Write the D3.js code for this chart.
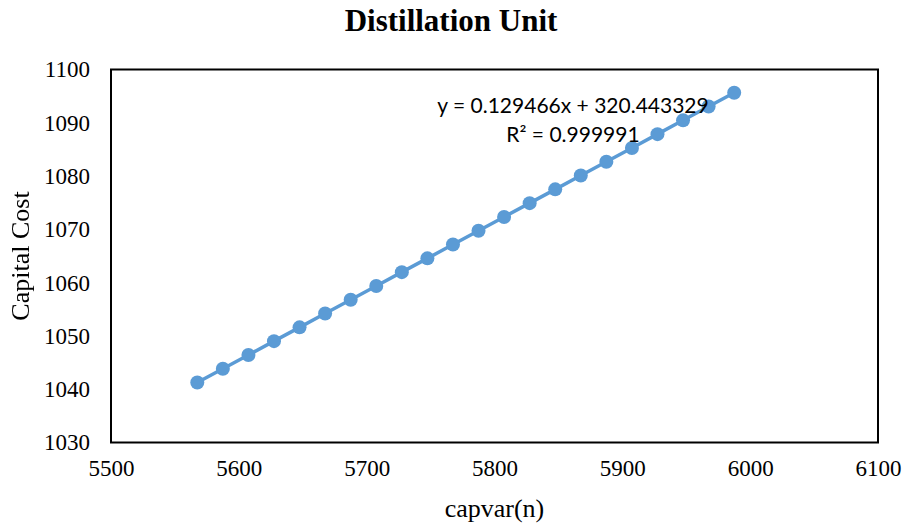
<!DOCTYPE html>
<html>
<head>
<meta charset="utf-8">
<script src="https://d3js.org/d3.v7.min.js"></script>
<style>
  html, body { margin: 0; padding: 0; background: #fff; }
  svg { display: block; }
  .y-title { filter: grayscale(100%); }
</style>
</head>
<body>
<svg id="chart" width="902" height="527"></svg>
<script>
// capvar(n) samples and the matching capital cost
const capvar = [5567.5, 5587.5, 5607.5, 5627.5, 5647.5, 5667.5, 5687.5, 5707.5,
                5727.5, 5747.5, 5767.5, 5787.5, 5807.5, 5827.5, 5847.5, 5867.5,
                5887.5, 5907.5, 5927.5, 5947.5, 5967.5, 5987.5];
const capitalCost = [1041.25, 1043.84, 1046.43, 1049.02, 1051.61, 1054.20, 1056.79, 1059.38,
                     1061.97, 1064.56, 1067.15, 1069.74, 1072.33, 1074.92, 1077.51, 1080.10,
                     1082.69, 1085.28, 1087.87, 1090.46, 1093.05, 1095.64];
const xTicks = [5500, 5600, 5700, 5800, 5900, 6000, 6100];
const yTicks = [1030, 1040, 1050, 1060, 1070, 1080, 1090, 1100];
const trendLines = ["y = 0.129466x + 320.443329", "R\u00B2 = 0.999991"];

const svg = d3.select("#chart");
const plot = { left: 111, top: 69.5, right: 878, bottom: 442.5 };
const serif = "'Liberation Serif', 'Times New Roman', serif";
const blue = "#5B9BD5";

const x = d3.scaleLinear().domain([5500, 6100]).range([plot.left, plot.right]);
const y = d3.scaleLinear().domain([1030, 1100]).range([plot.bottom, plot.top]);

// title
svg.append("text")
  .attr("x", 451).attr("y", 31)
  .attr("text-anchor", "middle")
  .attr("font-family", serif).attr("font-weight", "bold").attr("font-size", 31)
  .attr("fill", "#000")
  .text("Distillation Unit");

// axes (labels only, no tick marks)
const xAxis = svg.append("g")
  .attr("transform", `translate(0,${plot.bottom})`)
  .call(d3.axisBottom(x).tickValues(xTicks).tickSize(0).tickPadding(17).tickFormat(d3.format("d")));
const yAxis = svg.append("g")
  .attr("transform", `translate(${plot.left},0)`)
  .call(d3.axisLeft(y).tickValues(yTicks).tickSize(0).tickPadding(21).tickFormat(d3.format("d")));
[xAxis, yAxis].forEach(g => {
  g.select(".domain").remove();
  g.selectAll("text")
    .attr("font-family", serif).attr("font-size", 23).attr("fill", "#000");
});

// plot frame
svg.append("rect")
  .attr("x", plot.left).attr("y", plot.top)
  .attr("width", plot.right - plot.left).attr("height", plot.bottom - plot.top)
  .attr("fill", "none").attr("stroke", "#000").attr("stroke-width", 2);

// axis titles
svg.append("text")
  .attr("x", (plot.left + plot.right) / 2).attr("y", 517)
  .attr("text-anchor", "middle")
  .attr("font-family", serif).attr("font-size", 26)
  .attr("fill", "#000")
  .text("capvar(n)");
svg.append("text")
  .attr("class", "y-title")
  .attr("transform", `translate(29,${(plot.top + plot.bottom) / 2}) rotate(-90)`)
  .attr("text-anchor", "middle")
  .attr("font-family", serif).attr("font-size", 26)
  .attr("fill", "#000")
  .text("Capital Cost");

// series
const pts = capvar.map((v, i) => [v, capitalCost[i]]);
svg.append("path")
  .datum(pts)
  .attr("fill", "none").attr("stroke", blue).attr("stroke-width", 3.5)
  .attr("d", d3.line().x(d => x(d[0])).y(d => y(d[1])));
svg.append("g").selectAll("circle")
  .data(pts).join("circle")
  .attr("cx", d => x(d[0])).attr("cy", d => y(d[1]))
  .attr("r", 7).attr("fill", blue);

// trendline equation
svg.append("g").selectAll("text")
  .data(trendLines).join("text")
  .attr("x", 573).attr("y", (d, i) => 113 + i * 28.5)
  .attr("text-anchor", "middle")
  .attr("font-family", "Lato, 'Open Sans', sans-serif").attr("font-size", 21)
  .attr("fill", "#000")
  .text(d => d);
</script>
</body>
</html>
